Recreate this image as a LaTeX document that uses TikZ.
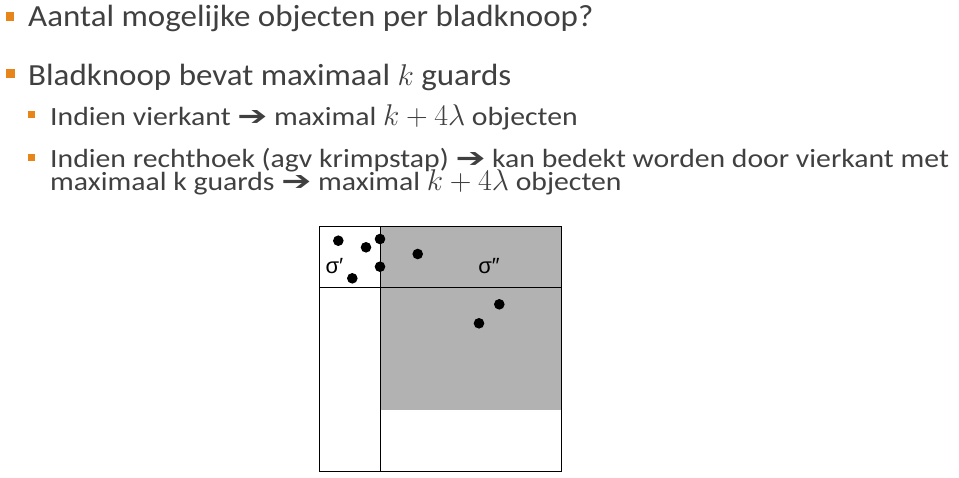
\documentclass[tikz,border=0pt]{standalone}
\usepackage{fix-cm}
\usepackage{fontspec}
\setmainfont{Carlito}
\newfontfamily\lvlonefont{Carlito}[FakeStretch=1.075]
\newfontfamily\lvltwofont{Carlito}[FakeStretch=1.13]
\newfontfamily\arrowfont{DejaVu Sans}
\newfontfamily\greekfont{Liberation Sans}
\usepackage{xcolor}
\usetikzlibrary{positioning}
\definecolor{txtgray}{HTML}{404040}
\definecolor{bulletorange}{HTML}{E8851A}
\definecolor{fillgray}{HTML}{B2B2B2}
\newcommand{\thenarrow}{\resizebox*{30pt}{15pt}{\raisebox{\depth}{\arrowfont\symbol{"2794}}}}
\newcommand{\bigmath}[1]{{\fontsize{30}{30}\selectfont$#1$}}

\tikzset{
  lvlone/.style={anchor=base west, inner sep=0pt, text=txtgray, font=\lvlonefont\fontsize{30.7}{36}\selectfont},
  lvltwo/.style={anchor=base west, inner sep=0pt, text=txtgray, font=\lvltwofont\fontsize{26.3}{30}\selectfont},
  bulletbig/.style={fill=bulletorange, minimum size=8.5pt, inner sep=0pt},
  bulletsmall/.style={fill=bulletorange, minimum size=7pt, inner sep=0pt},
  guard/.style={circle, fill=black, minimum size=10.6pt, inner sep=0pt},
  cellname/.style={inner sep=0pt, font=\greekfont\fontsize{22}{22}\selectfont},
}

\begin{document}
\begin{tikzpicture}[x=1pt,y=-1pt]
        \useasboundingbox (0,0) rectangle (959,477);
        %\draw[help lines] (0,0) grid[step=50] (959,477);
        \node[bulletbig] (b1) at (10,16.5) {};
        \node[lvlone] (t1) at (28,26.7) {Aantal mogelijke objecten per bladknoop?};
        \node[bulletbig] (b2) at (10.5,73.5) {};
        \node[lvlone] (t2) at (28,85.3) {Bladknoop bevat maximaal \bigmath{k} guards};
        \node[bulletsmall] (b3) at (31.5,114.5) {};
        \node[lvltwo] (t3) at (50,125.7) {Indien vierkant \thenarrow{} maximal \bigmath{k+4\lambda} objecten};
        \node[bulletsmall] (b4) at (31.5,157) {};
        \node[lvltwo] (t4) at (50,167.3) {Indien rechthoek (agv krimpstap) \thenarrow{} kan bedekt worden door vierkant met};
        \node[lvltwo] (t5) at (50,190.7) {maximaal k guards \thenarrow{} maximal \bigmath{k+4\lambda} objecten};

        \fill[fillgray] (380,226) rectangle (561.5,409.5);
        \draw[thick] (319,226) rectangle (561.5,471);
        \draw (380,226) -- (380,471);
        \draw (319,287) -- (561.5,287);
        \node[cellname] (s1) at (334.5,266) {σ′};
        \node[cellname] (s2) at (489,266) {σ″};
        \foreach \x/\y [count=\i] in {338.3/240.7, 366/247.3, 380/239, 417.7/254, 380/266.7, 352.3/278.3, 499.3/304.3, 479/323.3}
          \node[guard] (g\i) at (\x,\y) {};
\end{tikzpicture}
\end{document}
